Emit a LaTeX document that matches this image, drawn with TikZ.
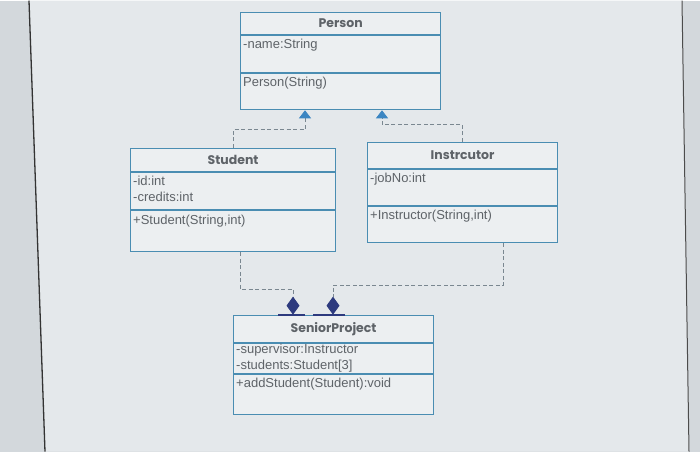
\documentclass[tikz,border=0pt]{standalone}
\usepackage{fontspec}
\setmainfont{Liberation Sans}
\newfontfamily\headfont{Poppins}
\usetikzlibrary{positioning,arrows.meta}
\definecolor{screen}{HTML}{E4E8EB}
\definecolor{bezel}{HTML}{D3D8DC}
\definecolor{boxfill}{HTML}{ECEFF1}
\definecolor{umlblue}{HTML}{4A8DB2}
\definecolor{textgray}{HTML}{5E6368}
\definecolor{linegray}{HTML}{7A8790}
\definecolor{arrowblue}{HTML}{3C86C2}
\definecolor{navy}{HTML}{2D3A7E}

\begin{document}
\begin{tikzpicture}[x=1pt,y=-1pt,
  head/.style={draw=umlblue, line width=1.2pt, fill=boxfill, anchor=north west, inner sep=0pt,
    font=\headfont\bfseries\fontsize{12.5}{14}\selectfont, text=textgray},
  part/.style={draw=umlblue, line width=1.2pt, fill=boxfill, anchor=north west, inner sep=0pt},
  entry/.style={align=left, inner sep=0pt, font=\fontsize{13}{16}\selectfont, text=textgray},
  realize/.style={draw=linegray, line width=0.9pt, dash pattern=on 4pt off 2.5pt,
    -{Triangle[length=8pt,width=12pt,fill=arrowblue,color=arrowblue]}},
  compose/.style={draw=linegray, line width=0.9pt, dash pattern=on 4pt off 2.5pt,
    -{Diamond[length=18pt,width=13pt,fill=navy,color=navy]}},
  bar/.style={draw=navy, line width=1.8pt}
]
\fill[bezel] (0,0) rectangle (700,451);
\fill[screen] (29,0) -- (682,0) -- (689,451) -- (45,451) -- cycle;
\draw[line width=1.3pt, black!80] (29,0) -- (45,451);
\draw[line width=1pt, black!70] (682,0) -- (689,451);
\useasboundingbox (0,0) rectangle (700,451);

% Person
\node[head, minimum width=200pt, minimum height=22pt] (person) at (240,11) {Person};
\node[part, minimum width=200pt, minimum height=37pt] (personattr) at (person.south west) {};
\node[part, minimum width=200pt, minimum height=36pt] (personops) at (personattr.south west) {};
\node[entry, below right=4pt and 3pt of personattr.north west] (personattrtxt) {-name:String};
\node[entry, below right=4pt and 3pt of personops.north west] (personopstxt) {Person(String)};

% Student
\node[head, minimum width=205pt, minimum height=23pt] (student) at (130,147) {Student};
\node[part, minimum width=205pt, minimum height=37pt] (studentattr) at (student.south west) {};
\node[part, minimum width=205pt, minimum height=41pt] (studentops) at (studentattr.south west) {};
\node[entry, below right=4pt and 3pt of studentattr.north west] (studentattrtxt) {-id:int\\-credits:int};
\node[entry, below right=5pt and 3pt of studentops.north west] (studentopstxt) {+Student(String,int)};

% Instrcutor
\node[head, minimum width=190pt, minimum height=26pt] (instr) at (367,141) {Instrcutor};
\node[part, minimum width=190pt, minimum height=36pt] (instrattr) at (instr.south west) {};
\node[part, minimum width=190pt, minimum height=36pt] (instrops) at (instrattr.south west) {};
\node[entry, below right=4pt and 3pt of instrattr.north west] (instrattrtxt) {-jobNo:int};
\node[entry, below right=4pt and 3pt of instrops.north west] (instropstxt) {+Instructor(String,int)};

% SeniorProject
\node[head, minimum width=200pt, minimum height=27pt] (senior) at (233,314) {SeniorProject};
\node[part, minimum width=200pt, minimum height=30pt] (seniorattr) at (senior.south west) {};
\node[part, minimum width=200pt, minimum height=40pt] (seniorops) at (seniorattr.south west) {};
\node[entry, below right=1pt and 3pt of seniorattr.north west] (seniorattrtxt) {-supervisor:Instructor\\-students:Student[3]};
\node[entry, below right=4pt and 3pt of seniorops.north west] (senioropstxt) {+addStudent(Student):void};

\draw[realize] (student.north) -- ++(0,-18) -| ([xshift=65pt]personops.south west);
\draw[realize] (instr.north) -- ++(0,-17) -| ([xshift=142pt]personops.south west);

\draw[bar] ([xshift=45pt]senior.north west) -- ([xshift=72pt]senior.north west);
\draw[bar] ([xshift=80pt]senior.north west) -- ([xshift=112pt]senior.north west);
\draw[compose] ([xshift=110pt]studentops.south west) -- ++(0,37) -| ([xshift=60pt]senior.north west);
\draw[compose] ([xshift=136pt]instrops.south west) -- ++(0,42) -| ([xshift=100pt]senior.north west);
\end{tikzpicture}
\end{document}
